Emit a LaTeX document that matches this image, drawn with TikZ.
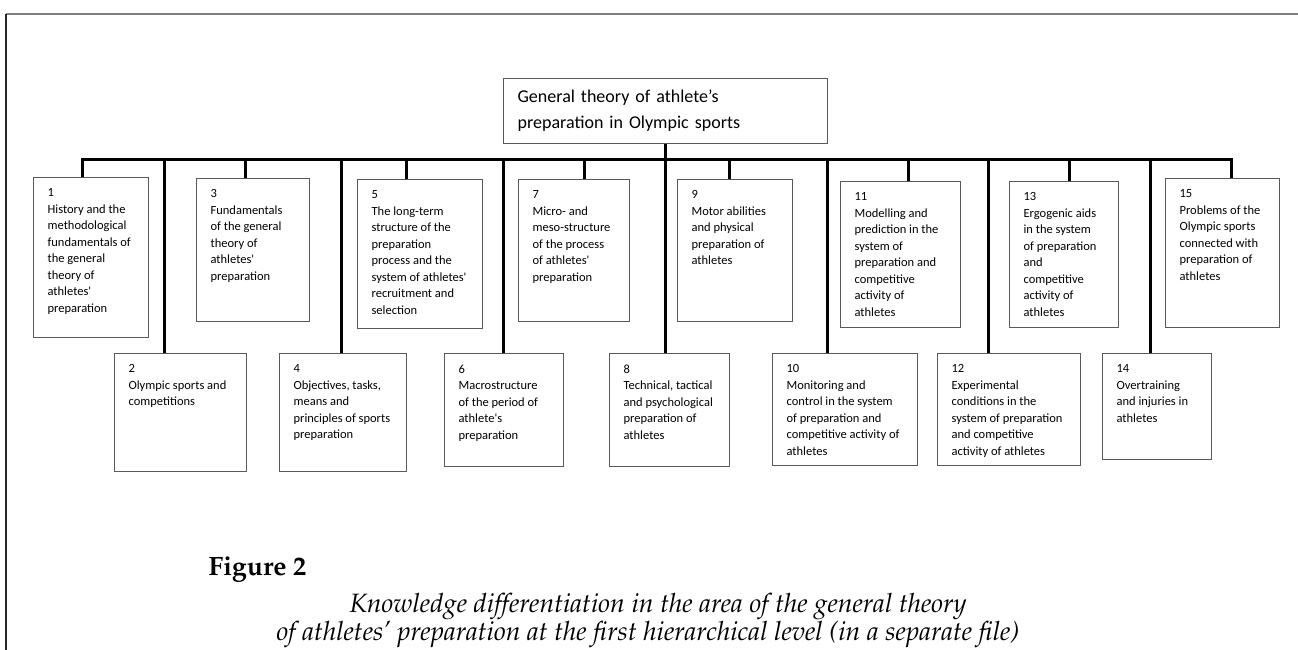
\documentclass[tikz,border=0pt]{standalone}
\usepackage[T1,TU]{fontenc}
\usepackage{fontspec}
\newfontfamily\boxfont{Carlito}
\usepackage{tikz}
\usetikzlibrary{positioning}

\newcommand{\tbox}[3]{\parbox[c][#2pt][t]{#1pt}{\raggedright\leftskip=14pt\vspace*{11pt}#3}}
\newcommand{\capfont}{\fontencoding{T1}\fontfamily{ppl}\selectfont}

\tikzset{
  topic/.style={draw=black!65, line width=1.2pt, anchor=north west, inner sep=0pt,
    font=\boxfont\fontsize{12.5}{16.5}\selectfont},
  root/.style={draw=black!65, line width=1.2pt, anchor=north west, inner xsep=14pt,
    text width=296pt, minimum height=65pt, align=left,
    font=\boxfont\fontsize{18}{26}\selectfont},
  link/.style={line width=3pt}
}

\begin{document}
\begin{tikzpicture}[x=1pt,y=-1pt]
\useasboundingbox (0,0) rectangle (1298,650);
\draw[black!50, line width=2pt] (6,14) -- (1298,14);
\draw[black!85, line width=2pt] (6,14) -- (6,650);

\node[root] (root) at (503,78) {General theory of athlete’s\\preparation in Olympic sports};

\node[topic] (b1) at (33,177) {\tbox{115}{160}{1\\History and the\\methodological\\fundamentals of\\the general\\theory of\\athletes'\\preparation}};
\node[topic] (b3) at (196,178) {\tbox{113}{143}{3\\Fundamentals\\of the general\\theory of\\athletes'\\preparation}};
\node[topic] (b5) at (357,179) {\tbox{125}{149}{5\\The long-term\\structure of the\\preparation\\process and the\\system of athletes'\\recruitment and\\selection}};
\node[topic] (b7) at (518,179) {\tbox{111}{142}{7\\Micro- and\\meso-structure\\of the process\\of athletes'\\preparation}};
\node[topic] (b9) at (677,179) {\tbox{115}{142}{9\\Motor abilities\\and physical\\preparation of\\athletes}};
\node[topic] (b11) at (840,181) {\tbox{120}{146}{11\\Modelling and\\prediction in the\\system of\\preparation and\\competitive\\activity of\\athletes}};
\node[topic] (b13) at (1009,181) {\tbox{109}{146}{13\\Ergogenic aids\\in the system\\of preparation\\and\\competitive\\activity of\\athletes}};
\node[topic] (b15) at (1165,178) {\tbox{114}{149}{15\\Problems of the\\Olympic sports\\connected with\\preparation of\\athletes}};

\node[topic] (b2) at (114,353) {\tbox{132}{118}{2\\Olympic sports and\\competitions}};
\node[topic] (b4) at (279,353) {\tbox{127}{118}{4\\Objectives, tasks,\\means and\\principles of sports\\preparation}};
\node[topic] (b6) at (444,353) {\tbox{119}{113}{6\\Macrostructure\\of the period of\\athlete's\\preparation}};
\node[topic] (b8) at (609,353) {\tbox{120}{113}{8\\Technical, tactical\\and psychological\\preparation of\\athletes}};
\node[topic] (b10) at (772,353) {\tbox{145}{112}{10\\Monitoring and\\control in the system\\of preparation and\\competitive activity of\\athletes}};
\node[topic] (b12) at (937,353) {\tbox{143}{112}{12\\Experimental\\conditions in the\\system of preparation\\and competitive\\activity of athletes}};
\node[topic] (b14) at (1102,353) {\tbox{109}{106}{14\\Overtraining\\and injuries in\\athletes}};

\foreach \n/\x in {1/82,2/164,3/245,4/341,5/406,6/503,7/584,8/665,9/729,10/827,11/908,12/988,13/1069,14/1150,15/1231}
  \coordinate (j\n) at (\x,159);
\draw[link] (root.south) -- (root.south |- j8);
\draw[link] (j1 |- b1.north) -- (j1) -- (j15) -- (j15 |- b15.north);
\foreach \n in {2,...,14}
  \draw[link] (j\n) -- (j\n |- b\n.north);

\node[anchor=base west, font=\capfont\bfseries\fontsize{26.5}{30}\selectfont] (fig) at (205,575) {Figure 2};
\node[anchor=base, font=\capfont\itshape\fontsize{26.5}{30}\selectfont] (cap1) at (658,612) {Knowledge differentiation in the area of the general theory};
\node[anchor=base, font=\capfont\itshape\fontsize{26.5}{30}\selectfont] (cap2) at (648,640) {of athletes' preparation at the first hierarchical level (in a separate file)};
\end{tikzpicture}
\end{document}
